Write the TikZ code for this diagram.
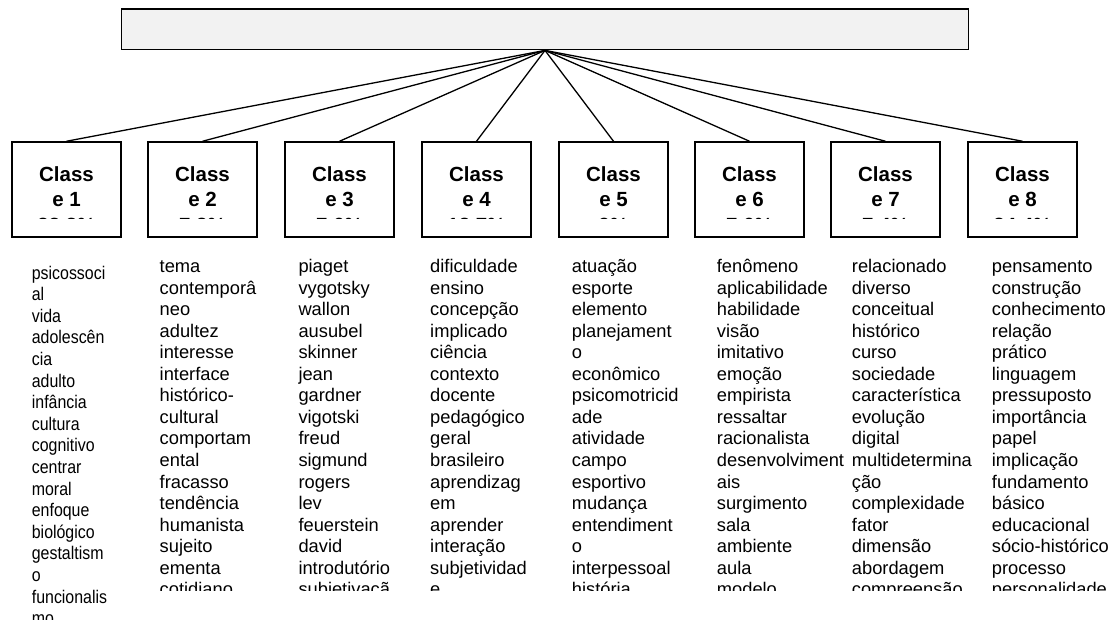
\documentclass[tikz,border=0pt]{standalone}
\usepackage{fontspec}
\setmainfont{Liberation Sans}
\definecolor{topgray}{HTML}{F2F2F2}
\begin{document}
\begin{tikzpicture}[x=1pt,y=-1pt,
  topbox/.style={draw, line width=1.8pt, fill=topgray, minimum width=847pt, minimum height=40.5pt, inner sep=0pt},
  classbox/.style={draw, line width=1.5pt, minimum width=109pt, minimum height=95pt, inner sep=0pt},
  classlbl/.style={font=\fontsize{20.5}{25}\selectfont\bfseries, inner sep=0pt, anchor=base},
  word/.style={font=\fontsize{18.3}{21.4}\selectfont, inner sep=0pt, anchor=base west},
  link/.style={line width=1.3pt}]
\useasboundingbox (0,0) rectangle (1115,619);
\clip (0,0) rectangle (1115,619);

% top box
\node[topbox] (top) at (545,29.25) {};

% class boxes
\foreach \i/\l/\p in {1/12/{23,3\%},2/148/{7,2\%},3/285/{7,6\%},4/422/{12,7\%},5/559/{9\%},6/695/{7,6\%},7/831/{7,4\%},8/968/{24,4\%}}{
  \node[classbox] (b\i) at (\l+54.5,189.5) {};
  \node[classlbl] (bt\i) at (\l+54.5,181.2) {Class};
  \node[classlbl] (bn\i) at (\l+54.5,206.2) {e \i};
  \begin{scope}
    \clip (\l,140) rectangle (\l+109,218.2);
    \node[classlbl] (bp\i) at (\l+54.5,232.3) {\p};
  \end{scope}
  \draw[link] (top.south) -- (b\i.north);
}

% word columns
\def\L{21.55}
\foreach \w [count=\k from 0] in {psicossoci,al,vida,adolescên,cia,adulto,infância,cultura,cognitivo,centrar,moral,enfoque,biológico,gestaltism,o,funcionalis,mo}
  \node[word, xscale=0.87] (wa\k) at (31.7,279+\k*21.6) {\w};

\begin{scope}
\clip (0,0) rectangle (1115,590);
\foreach \w [count=\k from 0] in {tema,contemporâ,neo,adultez,interesse,interface,histórico-,cultural,comportam,ental,fracasso,tendência,humanista,sujeito,ementa,cotidiano}
  \node[word] (wb\k) at (159.5,272.5+\k*\L) {\w};
\foreach \w [count=\k from 0] in {piaget,vygotsky,wallon,ausubel,skinner,jean,gardner,vigotski,freud,sigmund,rogers,lev,feuerstein,david,introdutório,subjetivaçã}
  \node[word] (wc\k) at (298.3,272.5+\k*\L) {\w};
\foreach \w [count=\k from 0] in {dificuldade,ensino,concepção,implicado,ciência,contexto,docente,pedagógico,geral,brasileiro,aprendizag,em,aprender,interação,subjetividad,e}
  \node[word] (wd\k) at (430,272.5+\k*\L) {\w};
\foreach \w [count=\k from 0] in {atuação,esporte,elemento,planejament,o,econômico,psicomotricid,ade,atividade,campo,esportivo,mudança,entendiment,o,interpessoal,história}
  \node[word] (we\k) at (571.7,272.5+\k*\L) {\w};
\foreach \w [count=\k from 0] in {fenômeno,aplicabilidade,habilidade,visão,imitativo,emoção,empirista,ressaltar,racionalista,desenvolviment,ais,surgimento,sala,ambiente,aula,modelo}
  \node[word] (wf\k) at (716.7,272.5+\k*\L) {\w};
\foreach \w [count=\k from 0] in {relacionado,diverso,conceitual,histórico,curso,sociedade,característica,evolução,digital,multidetermina,ção,complexidade,fator,dimensão,abordagem,compreensão}
  \node[word] (wg\k) at (851.7,272.5+\k*\L) {\w};
\foreach \w [count=\k from 0] in {pensamento,construção,conhecimento,relação,prático,linguagem,pressuposto,importância,papel,implicação,fundamento,básico,educacional,sócio-histórico,processo,personalidade}
  \node[word] (wh\k) at (991.7,272.5+\k*\L) {\w};
\end{scope}
\end{tikzpicture}
\end{document}
